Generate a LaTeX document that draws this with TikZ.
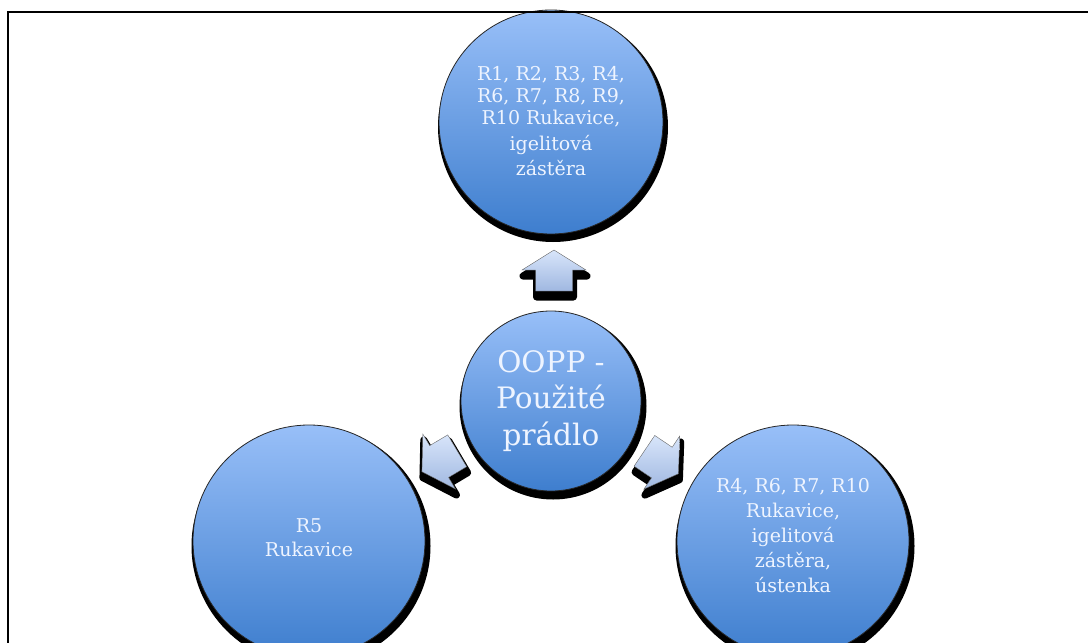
\documentclass[tikz,border=0pt]{standalone}
\usepackage{fontspec}
\setmainfont{DejaVu Serif}
\definecolor{ctop}{RGB}{152,191,248}
\definecolor{cbot}{RGB}{62,126,206}
\definecolor{atop}{RGB}{216,229,250}
\definecolor{abot}{RGB}{160,184,225}
\definecolor{txt}{RGB}{238,244,255}
\tikzset{
  bubble/.style={circle, minimum size=#1, inner sep=0pt, top color=ctop, bottom color=cbot, draw=black!85, line width=0.8pt},
  bubshadow/.style={circle, minimum size=#1, inner sep=0pt, fill=black},
  lbl/.style={text=txt, align=center, inner sep=0pt},
  smalltxt/.style={font=\fontsize{19}{#1}\selectfont},
  bigtxt/.style={font=\fontsize{29.5}{36.5}\selectfont},
  framebox/.style={draw=black, line width=2.5pt},
  arrshadow/.style={fill=black, draw=black, line width=7pt, line join=round},
  arrbody/.style={top color=atop, bottom color=abot, draw=black!60, line width=0.4pt},
}
\newcommand\blkpath{(-20,-18.5) -- (1,-18.5) -- (1,-32) -- (21,0) -- (1,32) -- (1,18.5) -- (-20,18.5) -- cycle}
\newcommand\blkarrow[3]{%
  \begin{scope}[shift={(#1+1,#2+6)}, rotate=#3]
    \path[arrshadow] \blkpath;
  \end{scope}
  \begin{scope}[shift={(#1,#2)}, rotate=#3]
    \path[arrbody] \blkpath;
  \end{scope}}
\begin{document}
\begin{tikzpicture}[x=1pt, y=-1pt]
\useasboundingbox (0,0) rectangle (1088,643);
% shadows
\node[bubshadow=230pt] (topS) at (553,127) {};
\node[bubshadow=187pt] (midS) at (553,406) {};
\node[bubshadow=239pt] (leftS) at (311,546) {};
\node[bubshadow=239pt] (rightS) at (795,546) {};
% circles
\node[bubble=224pt] (top) at (551,122) {};
\node[bubble=180pt] (mid) at (551,401) {};
\node[bubble=232pt] (left) at (309,541) {};
\node[bubble=232pt] (right) at (793,541) {};
% arrows
\blkarrow{554}{271}{90}
\blkarrow{440}{461}{210.7}
\blkarrow{661}{462}{-34}
% texts
\node[lbl, smalltxt=22] (topT) at (551,121) {R1, R2, R3, R4,\\R6, R7, R8, R9,\\R10 Rukavice,\\[4pt]igelitová\\[3pt]zástěra};
\node[lbl, bigtxt] (midT) at (551,401) {OOPP -\\Použité\\prádlo};
\node[lbl, smalltxt=24] (leftT) at (309,538) {R5\\Rukavice};
\node[lbl, smalltxt=25] (rightT) at (793,536) {R4, R6, R7, R10\\Rukavice,\\igelitová\\zástěra,\\ústenka};
% frame
\draw[framebox] (8,12) rectangle (1100,700);
\end{tikzpicture}
\end{document}
